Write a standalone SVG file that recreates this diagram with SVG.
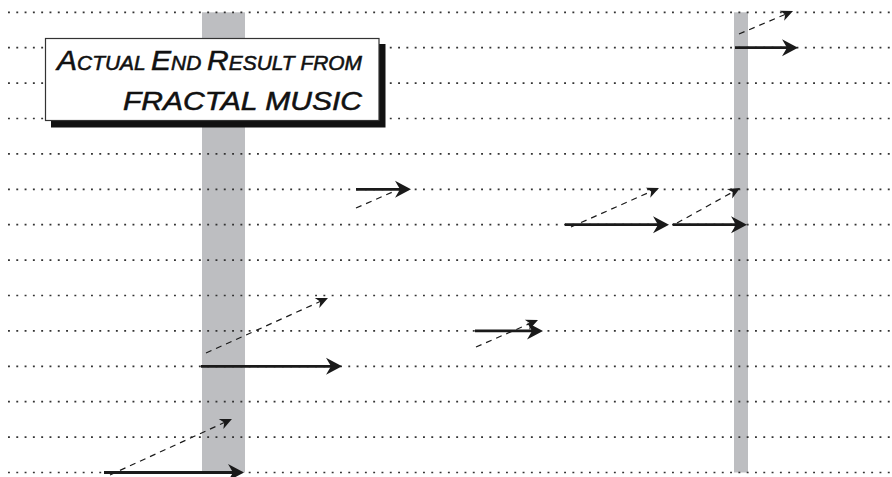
<svg xmlns="http://www.w3.org/2000/svg" width="892" height="477" viewBox="0 0 892 477">
<style>
.grid line{stroke:#333;stroke-width:1.7;stroke-dasharray:1.9 6.4}
.bar{fill:#bdbec1}
.solid{stroke:#1a1a1a;stroke-width:2.8;fill:none;marker-end:url(#headS)}
.dash{stroke:#1a1a1a;stroke-width:1.2;stroke-dasharray:6 5;fill:none;marker-end:url(#headD)}
.dashn{stroke:#1a1a1a;stroke-width:1.2;stroke-dasharray:6 5;fill:none}
.title{font-family:"Liberation Sans",Arial,sans-serif;font-style:italic;fill:#111;stroke:#111;stroke-width:0.55}
</style>
<defs>
<marker id="headS" markerUnits="userSpaceOnUse" viewBox="-18 -10 19 20" markerWidth="19" markerHeight="20" refX="-8" refY="0" orient="auto">
<path d="M0,0 L-16,-8.5 L-11,0 L-16,8.5 Z" fill="#1a1a1a"/>
</marker>
<marker id="headD" markerUnits="userSpaceOnUse" viewBox="-14 -8 15 16" markerWidth="15" markerHeight="16" refX="-6" refY="0" orient="auto">
<path d="M0,0 L-12,-5.5 L-8.5,0 L-12,5.5 Z" fill="#1a1a1a"/>
</marker>
</defs>
<rect width="892" height="477" fill="#fff"/>
<g id="bars">
<rect class="bar" x="202" y="12.3" width="43" height="460.2"/>
<rect class="bar" x="734" y="12.3" width="14" height="460.2"/>
</g>
<g id="grid" class="grid">
<line x1="8" y1="12.3" x2="892" y2="12.3"/>
<line x1="8" y1="47.7" x2="892" y2="47.7"/>
<line x1="8" y1="83.1" x2="892" y2="83.1"/>
<line x1="8" y1="118.5" x2="892" y2="118.5"/>
<line x1="8" y1="153.9" x2="892" y2="153.9"/>
<line x1="8" y1="189.3" x2="892" y2="189.3"/>
<line x1="8" y1="224.7" x2="892" y2="224.7"/>
<line x1="8" y1="260.1" x2="892" y2="260.1"/>
<line x1="8" y1="295.5" x2="892" y2="295.5"/>
<line x1="8" y1="330.9" x2="892" y2="330.9"/>
<line x1="8" y1="366.3" x2="892" y2="366.3"/>
<line x1="8" y1="401.7" x2="892" y2="401.7"/>
<line x1="8" y1="437.1" x2="892" y2="437.1"/>
<line x1="8" y1="472.5" x2="892" y2="472.5"/>
</g>
<g id="title-box">
<rect x="51" y="44" width="334.5" height="83.5" fill="#111"/>
<rect x="45.5" y="38.5" width="333.5" height="82" fill="#fff" stroke="#333" stroke-width="1.2"/>
<text class="title" x="57" y="70" textLength="305" lengthAdjust="spacingAndGlyphs"><tspan font-size="28">A</tspan><tspan font-size="19.5">CTUAL </tspan><tspan font-size="28">E</tspan><tspan font-size="19.5">ND </tspan><tspan font-size="28">R</tspan><tspan font-size="19.5">ESULT FROM</tspan></text>
<text class="title" x="123" y="110" font-size="26.5" textLength="239" lengthAdjust="spacingAndGlyphs">FRACTAL MUSIC</text>
</g>
<g id="connectors">
<line class="dash" x1="739" y1="34" x2="787.5" y2="13.4"/>
<line class="solid" x1="735" y1="47.7" x2="790" y2="47.7"/>
<line class="dashn" x1="356" y1="208" x2="396" y2="190.5"/>
<line class="solid" x1="356" y1="189.3" x2="403" y2="189.3"/>
<line class="dash" x1="571" y1="227" x2="653.5" y2="190.4"/>
<line class="solid" x1="565" y1="224.7" x2="661" y2="224.7"/>
<line class="dash" x1="677" y1="223" x2="734.8" y2="190.9"/>
<line class="solid" x1="673" y1="224.7" x2="739" y2="224.7"/>
<line class="dash" x1="206" y1="353" x2="322.5" y2="300.5"/>
<line class="solid" x1="201" y1="366.3" x2="334" y2="366.3"/>
<line class="dash" x1="476" y1="347" x2="532.5" y2="322.4"/>
<line class="solid" x1="475" y1="330.9" x2="535" y2="330.9"/>
<line class="dash" x1="110" y1="475" x2="226.5" y2="421.5"/>
<line class="solid" x1="104" y1="472.5" x2="236" y2="472.5"/>
</g>
</svg>
